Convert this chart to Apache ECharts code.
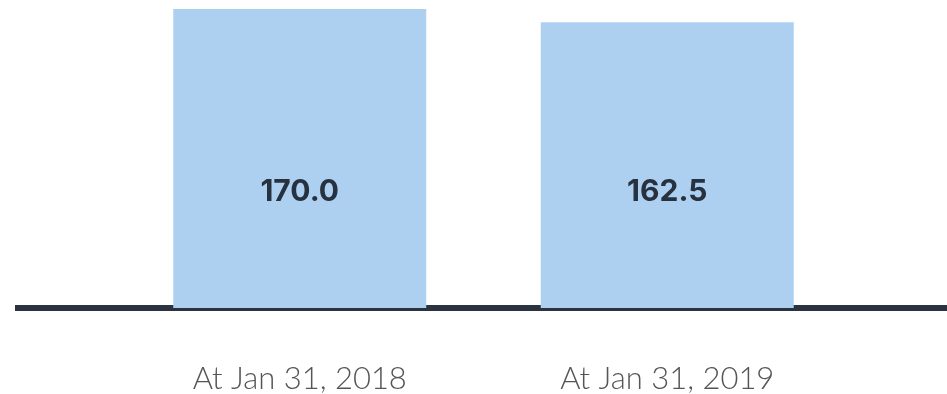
<!DOCTYPE html>
<html>
<head>
    <meta charset="utf-8">
    <title>At Jan 31</title>
    <script src="https://cdn.jsdelivr.net/npm/echarts@6/dist/echarts.min.js"></script>
    <style>
        html, body { margin: 0; padding: 0; background: #fff; }
        #main { width: 947px; height: 394px; }
    </style>
</head>
<body>
    <div id="main"></div>
    <script>
        const categories = ['At Jan 31, 2018', 'At Jan 31, 2019'];
        const values = [170.0, 162.5];

        const chart = echarts.init(document.getElementById('main'));

        chart.setOption({
            animation: false,
            grid: [
                { left: 116, right: 96, top: 9, bottom: 86 },
                // full-width grid only for the baseline
                { left: 15, right: 0, top: 9, bottom: 86 }
            ],
            xAxis: [{
                type: 'category',
                gridIndex: 0,
                data: categories,
                axisLine: { show: false },
                axisTick: { show: false },
                axisLabel: {
                    margin: 55,
                    fontFamily: 'Lato',
                    fontWeight: 300,
                    fontSize: 31,
                    color: '#555555'
                }
            }, {
                type: 'category',
                gridIndex: 1,
                data: [],
                axisLine: { show: true, lineStyle: { color: '#2c3340', width: 6, cap: 'butt' } },
                axisTick: { show: false },
                axisLabel: { show: false }
            }],
            yAxis: [{
                type: 'value',
                gridIndex: 0,
                min: 0,
                max: 170,
                show: false
            }, {
                type: 'value',
                gridIndex: 1,
                show: false
            }],
            series: [{
                type: 'bar',
                xAxisIndex: 0,
                yAxisIndex: 0,
                data: values,
                barWidth: 253,
                itemStyle: { color: '#aed0f0' },
                label: {
                    show: true,
                    position: 'insideBottom',
                    distance: 101,
                    formatter: p => p.value.toFixed(1),
                    fontFamily: 'Inter',
                    fontWeight: 'bold',
                    fontSize: 30,
                    color: '#263240'
                }
            }]
        });
    </script>
</body>
</html>
